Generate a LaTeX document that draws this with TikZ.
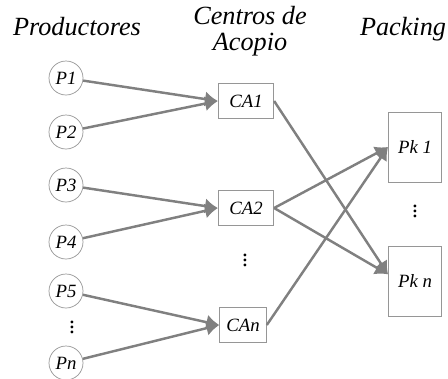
\documentclass[tikz,border=0pt]{standalone}
\usepackage{fontspec}
\setmainfont{Liberation Serif}[ItalicFont={Liberation Serif Italic}]
\usetikzlibrary{arrows.meta}
\definecolor{lngray}{RGB}{128,128,128}
\definecolor{bxgray}{RGB}{150,150,150}

\begin{document}
\begin{tikzpicture}[x=0.03cm,y=-0.03cm,
	prod/.style={circle,draw=bxgray,line width=0.6pt,minimum size=1.02cm,inner sep=0pt,
		font=\fontsize{16}{19}\selectfont\itshape},
	acop/.style={rectangle,draw=bxgray,line width=0.8pt,minimum height=1.05cm,inner xsep=0.33cm,
		font=\fontsize{16}{19}\selectfont\itshape},
	pack/.style={rectangle,draw=bxgray,line width=0.8pt,minimum height=2.1cm,minimum width=1.59cm,
		font=\fontsize{16}{19}\selectfont\itshape},
	titulo/.style={font=\fontsize{22.4}{22.2}\selectfont\itshape,inner sep=0pt,align=center},
	puntos/.style={font=\fontsize{20}{22}\selectfont,inner sep=0pt},
	flujo/.style={draw=lngray,line width=2.1pt,-{Latex[length=11pt,width=13pt]}}]
\useasboundingbox (0,0) rectangle (448,378);
\path (77,35) node[titulo,anchor=base](t1) {Productores}
		(250,31) node[titulo](t2) {Centros de\\Acopio}
		(403,35) node[titulo,anchor=base](t3) {Packing}
		;
\path (66,78) node[prod](p1) {P1}
		(66,132) node[prod](p2) {P2}
		(66,185) node[prod](p3) {P3}
		(66,242) node[prod](p4) {P4}
		(66,291) node[prod](p5) {P5}
		(72,324) node[puntos](d1) {$\vdots$}
		(66,363) node[prod](pn) {Pn}
		;
\path (246,101) node[acop](ca1) {CA1}
		(246,208) node[acop](ca2) {CA2}
		(245,257) node[puntos](d2) {$\vdots$}
		(243,325) node[acop,inner xsep=0.2cm](can) {CAn}
		;
\path (415,147) node[pack](pk1) {Pk 1}
		(415,208) node[puntos](d3) {$\vdots$}
		(415,281) node[pack](pkn) {Pk n}
		;
	\draw[flujo] (node cs:name=p1) -- (node cs:name=ca1,anchor=west);
	\draw[flujo] (node cs:name=p2) -- (node cs:name=ca1,anchor=west);
	\draw[flujo] (node cs:name=p3) -- (node cs:name=ca2,anchor=west);
	\draw[flujo] (node cs:name=p4) -- (node cs:name=ca2,anchor=west);
	\draw[flujo] (node cs:name=p5) -- (node cs:name=can,anchor=west);
	\draw[flujo] (node cs:name=pn) -- (node cs:name=can,anchor=west);
	\draw[flujo] (node cs:name=ca1,anchor=east) -- ([yshift=0.2cm]node cs:name=pkn,anchor=west);
	\draw[flujo] (node cs:name=ca2,anchor=east) -- ([yshift=0.2cm]node cs:name=pkn,anchor=west);
	\draw[flujo] (node cs:name=ca2,anchor=east) -- (node cs:name=pk1,anchor=west);
	\draw[flujo] (node cs:name=can,anchor=east) -- (node cs:name=pk1,anchor=west);
\end{tikzpicture}
\end{document}
